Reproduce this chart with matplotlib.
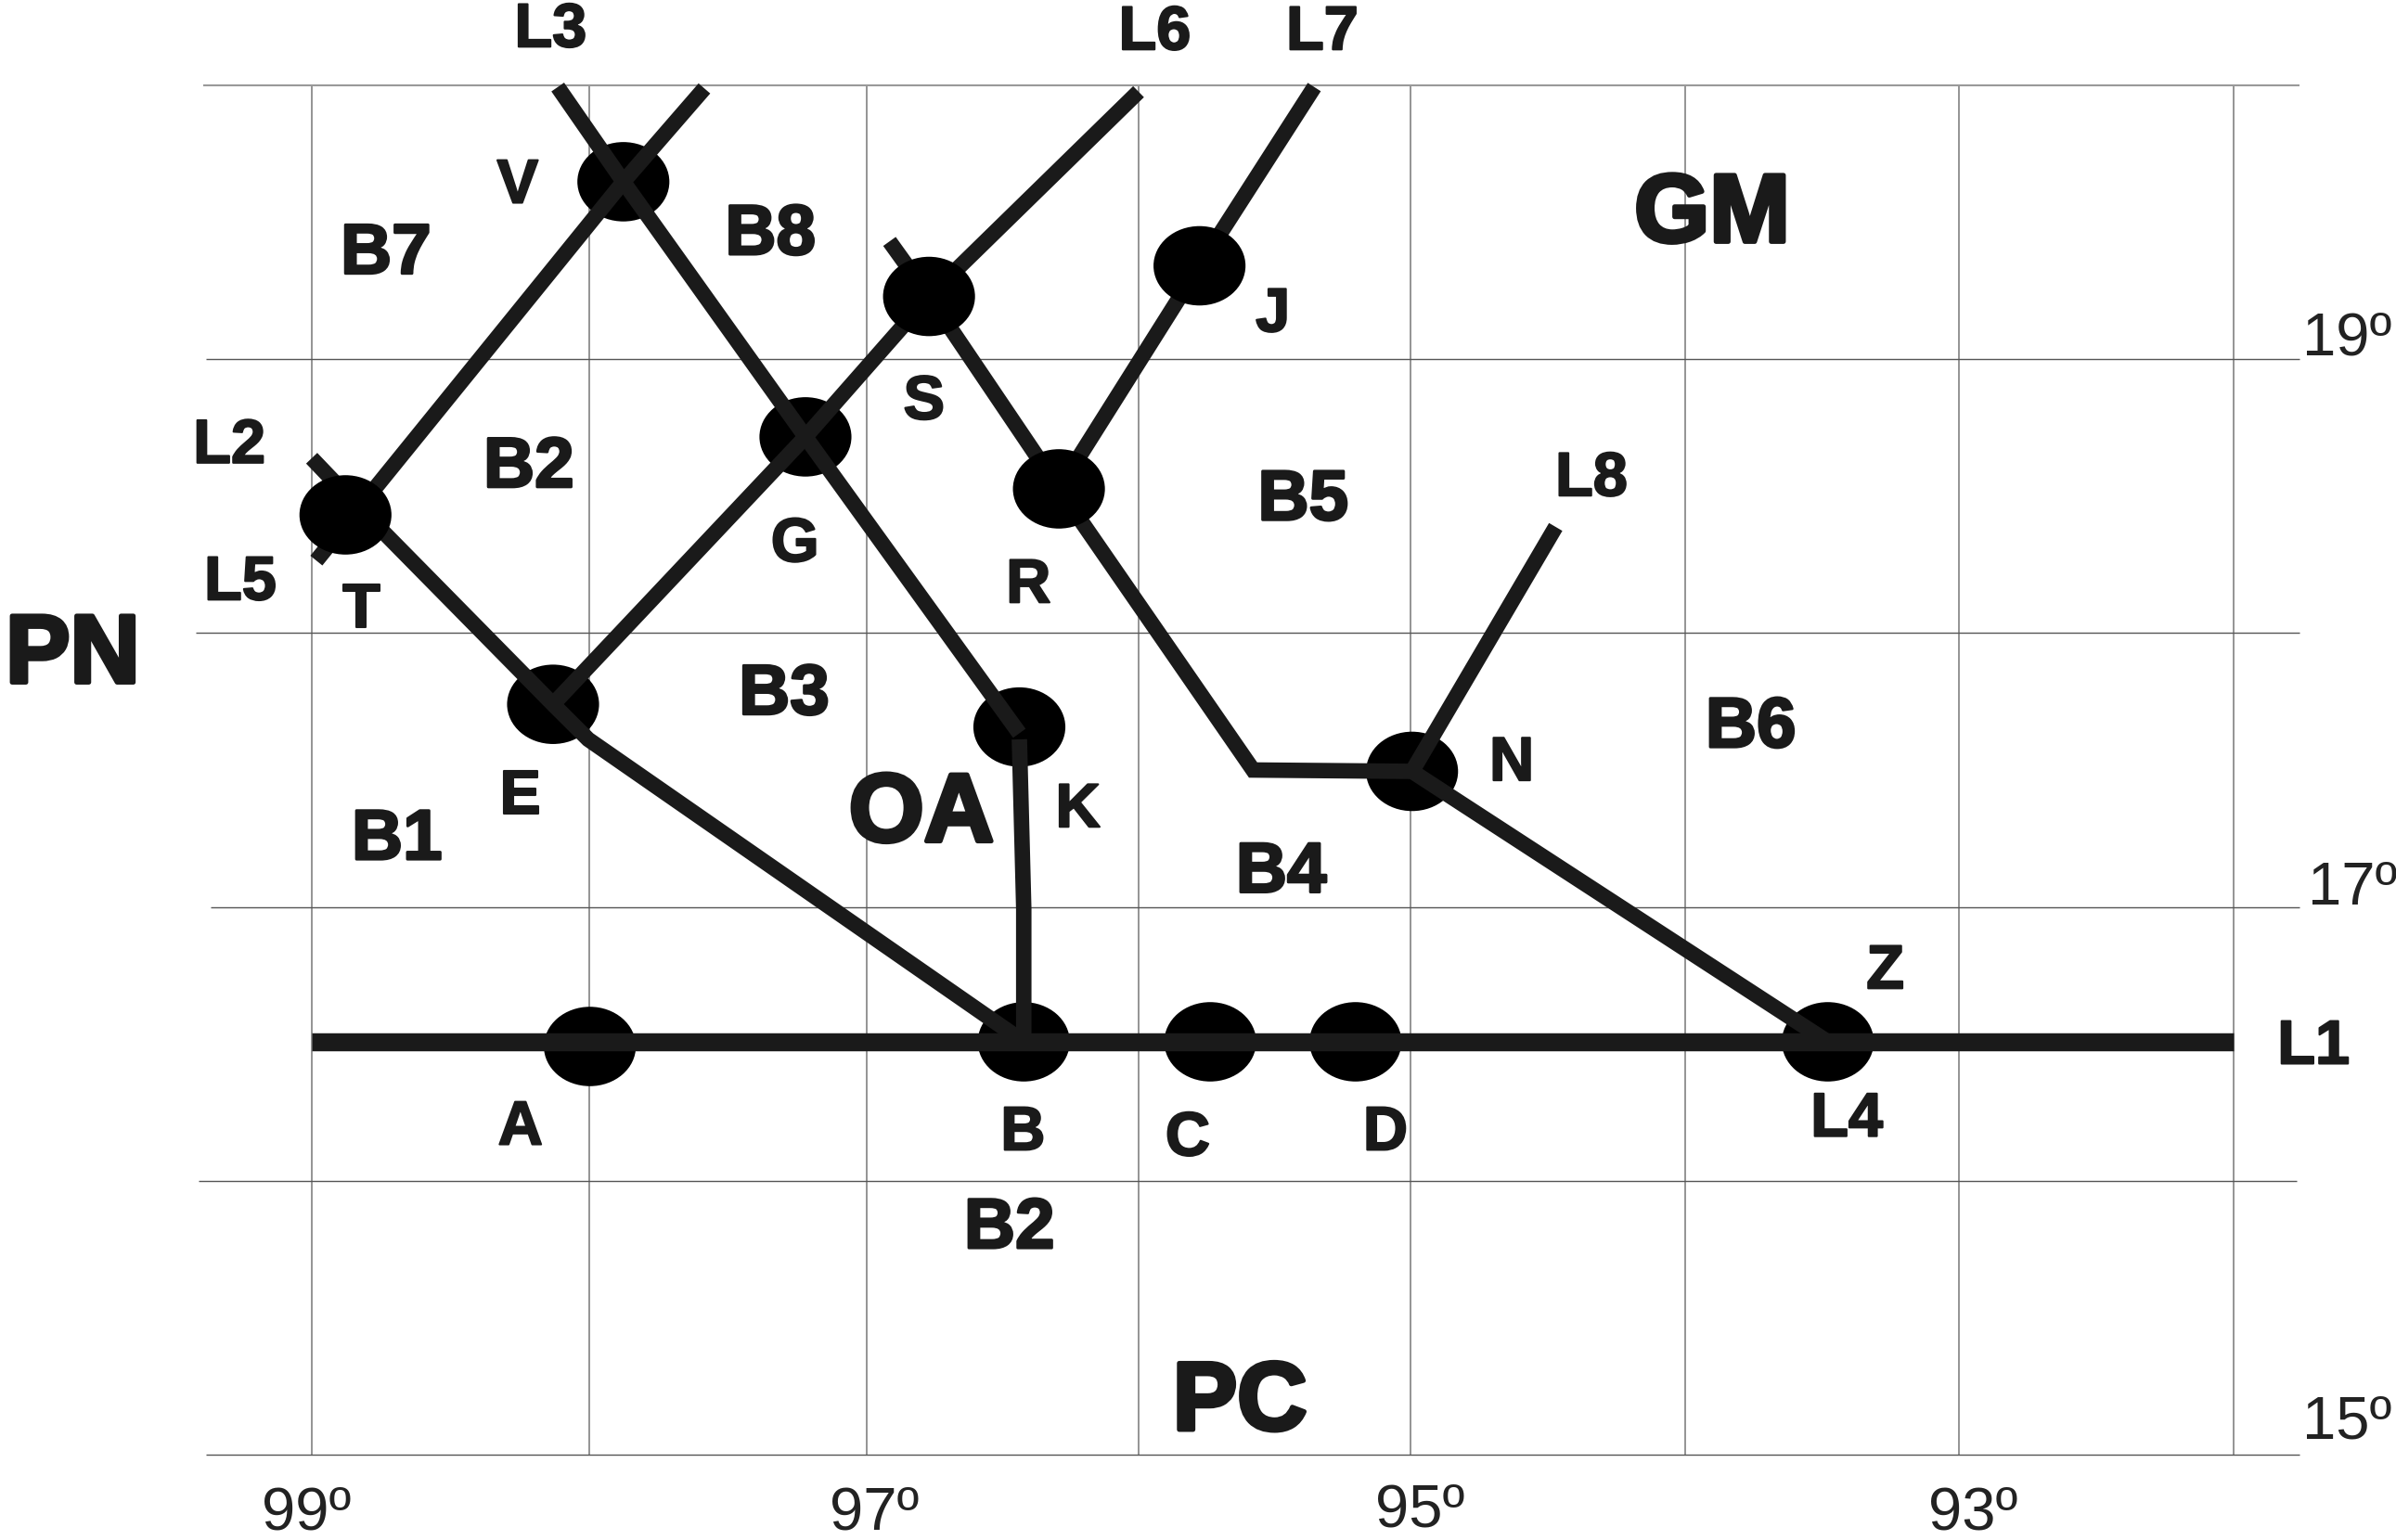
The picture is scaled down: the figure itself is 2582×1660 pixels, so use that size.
import matplotlib
matplotlib.use("Agg")
import matplotlib.pyplot as plt
from matplotlib.patches import Ellipse
import matplotlib.patheffects as pe

X_LEFT, X_RIGHT = 100.135, 91.41
Y_TOP, Y_BOTTOM = 20.313, 14.687

# Grid
grid_lons = [99, 97.99, 96.98, 95.99, 95.0, 94.0, 93.0, 92.0]
grid_lats = [20, 19, 18, 17, 16, 15]
grid_lat_start = [99.395, 99.384, 99.423, 99.367, 99.412, 99.384]
grid_lat_end = [91.76, 91.76, 91.76, 91.76, 91.77, 91.76]

# Faults (lon, lat)
L1_lon = [99.0, 92.0]
L1_lat = [16.507, 16.507]
L2_lon = [97.57, 97.865, 98.983]
L2_lat = [19.99, 19.649, 18.265]
L3_lon = [98.104, 97.865, 97.202, 96.423]
L3_lat = [19.995, 19.649, 18.717, 17.634]
KB_lon = [96.423, 96.407, 96.407]
KB_lat = [17.612, 16.993, 16.507]
L5_lon = [99.0, 98.877, 98.121, 97.993, 96.407]
L5_lat = [18.639, 18.51, 17.74, 17.612, 16.507]
L6_lon = [95.989, 96.752, 97.202, 98.121]
L6_lat = [19.978, 19.23, 18.717, 17.74]
L4_lon = [96.896, 96.752, 96.279, 95.572, 94.993, 93.479]
L4_lat = [19.431, 19.23, 18.527, 17.5, 17.495, 16.507]
L7_lon = [95.349, 95.767, 96.279]
L7_lat = [19.995, 19.342, 18.527]
L8_lon = [94.47, 94.993]
L8_lat = [18.388, 17.495]
L1_WIDTH = 14.0
FAULT_WIDTH = 12.0
faults = [(L1_lon, L1_lat, L1_WIDTH), (L2_lon, L2_lat, FAULT_WIDTH), (L3_lon, L3_lat, FAULT_WIDTH),
          (KB_lon, KB_lat, FAULT_WIDTH), (L5_lon, L5_lat, FAULT_WIDTH), (L6_lon, L6_lat, FAULT_WIDTH),
          (L4_lon, L4_lat, FAULT_WIDTH), (L7_lon, L7_lat, FAULT_WIDTH), (L8_lon, L8_lat, FAULT_WIDTH)]

# Stations: those under the fault lines, then those that cover them
under_lon = [97.987, 96.407, 95.728, 95.199, 93.479, 94.993, 96.423, 98.121, 97.202, 97.865]
under_lat = [16.49, 16.507, 16.507, 16.507, 16.507, 17.495, 17.657, 17.74, 18.717, 19.649]
over_lon = [98.877, 96.279, 96.752, 95.767]
over_lat = [18.432, 18.527, 19.23, 19.342]

big_labels = [("PN", 99.87, 17.91), ("GM", 93.90, 19.52), ("OA", 96.78, 17.33), ("PC", 95.62, 15.18)]
mid_labels = [("B7", 98.73, 19.38), ("B8", 97.33, 19.45), ("B2", 98.21, 18.60), ("B5", 95.39, 18.48),
              ("B3", 97.28, 17.77), ("B6", 93.76, 17.65), ("B1", 98.69, 17.24), ("B4", 95.47, 17.12),
              ("B2", 96.46, 15.82)]
small_labels = [("L3", 98.13, 20.20), ("L6", 95.93, 20.19), ("L7", 95.32, 20.19), ("L2", 99.30, 18.68),
                ("L5", 99.26, 18.18), ("L8", 94.34, 18.56), ("L1", 91.71, 16.485), ("L4", 93.41, 16.22),
                ("V", 98.25, 19.63), ("J", 95.50, 19.16), ("S", 96.77, 18.84), ("G", 97.24, 18.32),
                ("R", 96.39, 18.17), ("T", 98.82, 18.08), ("E", 98.24, 17.40), ("K", 96.21, 17.35),
                ("N", 94.63, 17.52), ("Z", 93.27, 16.76), ("A", 98.24, 16.19), ("B", 96.41, 16.17),
                ("C", 95.81, 16.15), ("D", 95.09, 16.17)]

lon_labels = [("99º", 99.02, 14.785), ("97º", 96.95, 14.785), ("95º", 94.965, 14.795), ("93º", 92.95, 14.785)]
lat_labels = [("19º", 91.59, 19.075), ("17º", 91.57, 17.065), ("15º", 91.59, 15.115)]

fig = plt.figure(figsize=(25.82, 16.60), dpi=100)
ax = fig.add_axes([0, 0, 1, 1])
ax.set_xlim(X_LEFT, X_RIGHT)
ax.set_ylim(Y_BOTTOM, Y_TOP)
ax.axis("off")

ink = "#1a1a1a"
for lon in grid_lons:
    ax.plot([lon, lon], [15, 20], color="#777777", lw=1.1, zorder=1, solid_capstyle="butt")
for i, (lat, start, end) in enumerate(zip(grid_lats, grid_lat_start, grid_lat_end)):
    ax.plot([start, end], [lat, lat], color="#999999" if i == 0 else "#555555",
            lw=1.5 if i == 0 else 1.0, zorder=1, solid_capstyle="butt")

for lon, lat in zip(under_lon, under_lat):
    ax.add_patch(Ellipse((lon, lat), 0.335, 0.29, facecolor="black", edgecolor="none", zorder=2))
for lon, lat, lw in faults:
    ax.plot(lon, lat, color=ink, lw=lw, zorder=3, solid_capstyle="butt", solid_joinstyle="miter")
for lon, lat in zip(over_lon, over_lat):
    ax.add_patch(Ellipse((lon, lat), 0.335, 0.29, facecolor="black", edgecolor="none", zorder=4))

heavy = dict(family="Liberation Sans", fontweight="bold", color=ink, ha="center", va="center", zorder=5)
for t, x, y in big_labels:
    ax.text(x, y, t, fontsize=75, path_effects=[pe.withStroke(linewidth=3.5, foreground=ink)], **heavy)
for t, x, y in mid_labels:
    ax.text(x, y, t, fontsize=55, path_effects=[pe.withStroke(linewidth=2, foreground=ink)], **heavy)
for t, x, y in small_labels:
    ax.text(x, y, t, fontsize=48, path_effects=[pe.withStroke(linewidth=1.5, foreground=ink)], **heavy)

thin = dict(family="Liberation Sans", color="#222222", ha="center", va="center", fontsize=47)
for t, x, y in lon_labels + lat_labels:
    ax.text(x, y, t, **thin)

fig.savefig("out.png", dpi=100)
